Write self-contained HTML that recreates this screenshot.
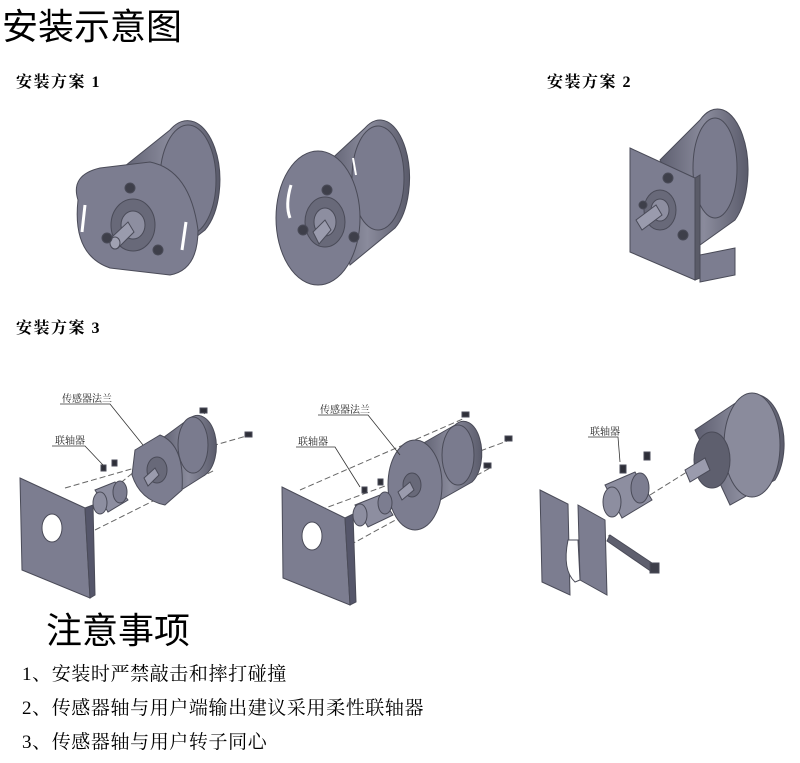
<!DOCTYPE html>
<html><head><meta charset="utf-8"><style>
html,body{margin:0;padding:0;background:#fff;}
body{width:800px;height:763px;overflow:hidden;position:relative;font-family:"Liberation Serif","Noto Serif CJK SC","Noto Sans CJK SC",serif;}
.t{position:absolute;white-space:nowrap;color:#000;}
.s{font-size:16px;font-weight:bold;letter-spacing:1.5px;}
.n{font-size:19px;letter-spacing:0.6px;}
</style></head><body>
<div class="t" style="left:2px;top:-2px;font-size:36px;font-family:'Liberation Sans','Noto Sans CJK SC',sans-serif;">安装示意图</div>
<div class="t s" style="left:16px;top:69px;">安装方案 1</div>
<div class="t s" style="left:547px;top:69px;">安装方案 2</div>
<div class="t s" style="left:16px;top:315px;">安装方案 3</div>
<div class="t" style="left:46px;top:602px;font-size:36px;font-family:'Liberation Sans','Noto Sans CJK SC',sans-serif;">注意事项</div>
<div class="t n" style="left:22px;top:659px;">1、安装时严禁敲击和摔打碰撞</div>
<div class="t n" style="left:22px;top:693px;">2、传感器轴与用户端输出建议采用柔性联轴器</div>
<div class="t n" style="left:22px;top:727px;">3、传感器轴与用户转子同心</div>

<svg width="800" height="763" style="position:absolute;left:0;top:0" xmlns="http://www.w3.org/2000/svg">
<defs>
<linearGradient id="cyl" x1="0" y1="0" x2="1" y2="0">
<stop offset="0" stop-color="#5e5f70"/><stop offset="0.5" stop-color="#8a8b9c"/><stop offset="1" stop-color="#5a5b6b"/></linearGradient>
</defs>
<g fill="#73748a" stroke="#4a4b58" stroke-width="1">
<path d="M120,170 L170,130 A30,55 0 0 1 205,230 L160,265 Z" fill="url(#cyl)"/>
<ellipse cx="188" cy="180" rx="28" ry="55" fill="#7a7b8e"/>
<path d="M78,200 Q70,175 100,168 L150,162 Q190,170 198,230 Q198,270 170,275 L110,268 Q72,255 78,200 Z" fill="#7c7d90"/>
<ellipse cx="133" cy="225" rx="22" ry="26" fill="#686979"/>
<ellipse cx="133" cy="225" rx="12" ry="14" fill="#8d8ea0"/>
<path d="M112,237 L128,222 L134,232 L118,248 Z" fill="#9a9bad"/>
<ellipse cx="115" cy="243" rx="5" ry="6" fill="#a0a1b2"/>
<circle cx="130" cy="188" r="5" fill="#3e3f4a"/><circle cx="107" cy="238" r="5" fill="#3e3f4a"/><circle cx="158" cy="250" r="5" fill="#3e3f4a"/>
<path d="M85,205 L82,232" stroke="#fff" stroke-width="3"/><path d="M186,222 L182,250" stroke="#fff" stroke-width="3"/>
<path d="M325,165 L365,128 A28,55 0 0 1 395,228 L350,265 Z" fill="url(#cyl)"/>
<ellipse cx="378" cy="178" rx="26" ry="52" fill="#7a7b8e"/>
<ellipse cx="318" cy="218" rx="42" ry="67" fill="#7c7d90"/>
<ellipse cx="325" cy="222" rx="20" ry="25" fill="#686979"/>
<ellipse cx="325" cy="222" rx="11" ry="14" fill="#8d8ea0"/>
<path d="M313,232 L325,220 L331,230 L319,244 Z" fill="#9a9bad"/>
<circle cx="327" cy="190" r="5" fill="#3e3f4a"/><circle cx="303" cy="230" r="5" fill="#3e3f4a"/><circle cx="354" cy="237" r="5" fill="#3e3f4a"/>
<path d="M291,185 Q285,205 290,218" stroke="#fff" stroke-width="3" fill="none"/>
<path d="M345,275 Q360,278 370,268" stroke="#fff" stroke-width="3" fill="none"/>
<path d="M353,158 L356,175" stroke="#fff" stroke-width="2"/>
<path d="M660,160 L700,120 A25,50 0 0 1 735,220 L700,245 Z" fill="url(#cyl)"/>
<ellipse cx="715" cy="168" rx="22" ry="50" fill="#7a7b8e"/>
<path d="M700,255 L735,248 L735,275 L700,282 Z" fill="#7c7d90"/>
<path d="M630,148 L695,178 L695,280 L630,252 Z" fill="#7c7d90"/>
<path d="M695,178 L700,175 L700,278 L695,280 Z" fill="#5a5b68"/>
<ellipse cx="660" cy="210" rx="16" ry="20" fill="#686979"/>
<ellipse cx="660" cy="210" rx="9" ry="11" fill="#8d8ea0"/>
<path d="M636,220 L656,205 L662,215 L642,230 Z" fill="#9a9bad"/>
<circle cx="668" cy="178" r="5" fill="#3e3f4a"/><circle cx="643" cy="205" r="4" fill="#3e3f4a"/><circle cx="683" cy="235" r="5" fill="#3e3f4a"/>
</g>

<g stroke="#666" stroke-width="1" stroke-dasharray="6,3" fill="none">
<line x1="65" y1="488" x2="250" y2="435"/><line x1="95" y1="530" x2="215" y2="470"/><line x1="100" y1="500" x2="205" y2="413"/>
<line x1="320" y1="510" x2="510" y2="440"/><line x1="350" y1="545" x2="490" y2="468"/><line x1="300" y1="490" x2="465" y2="418"/>
<line x1="570" y1="560" x2="610" y2="535"/><line x1="650" y1="495" x2="690" y2="470"/>
</g>
<g fill="#73748a" stroke="#4a4b58" stroke-width="1">
<path d="M20,478 L85,508 L90,598 L22,570 Z" fill="#7c7d90"/>
<path d="M85,508 L93,505 L95,595 L90,598 Z" fill="#55566a"/>
<ellipse cx="52" cy="528" rx="10" ry="14" fill="#fff"/>
<path d="M160,440 L190,418 A17,28 0 0 1 205,475 L178,492 Z" fill="url(#cyl)"/>
<ellipse cx="193" cy="445" rx="15" ry="28" fill="#7a7b8e"/>
<path d="M135,450 L160,435 Q185,445 182,490 L165,505 Q140,500 132,475 Z" fill="#7c7d90"/>
<ellipse cx="157" cy="470" rx="10" ry="13" fill="#686979"/>
<path d="M144,478 L155,468 L159,475 L148,486 Z" fill="#9a9bad"/>
<path d="M95,490 L115,482 L128,500 L108,512 Z" fill="#8d8ea0"/>
<ellipse cx="100" cy="503" rx="7" ry="11" fill="#8d8ea0"/><ellipse cx="120" cy="492" rx="7" ry="11" fill="#7c7d90"/>
<rect x="101" y="465" width="5" height="6" fill="#2e2f38"/><rect x="112" y="460" width="5" height="6" fill="#2e2f38"/>
<rect x="200" y="408" width="7" height="5" fill="#2e2f38"/><rect x="245" y="432" width="7" height="5" fill="#2e2f38"/>
<path d="M282,487 L345,518 L350,605 L283,578 Z" fill="#7c7d90"/>
<path d="M345,518 L353,514 L356,602 L350,605 Z" fill="#55566a"/>
<ellipse cx="312" cy="536" rx="10" ry="14" fill="#fff"/>
<path d="M420,445 L455,425 A17,30 0 0 1 472,482 L440,500 Z" fill="url(#cyl)"/>
<ellipse cx="458" cy="455" rx="16" ry="30" fill="#7a7b8e"/>
<ellipse cx="415" cy="485" rx="27" ry="45" fill="#7c7d90"/>
<ellipse cx="412" cy="485" rx="9" ry="12" fill="#686979"/>
<path d="M398,492 L410,482 L414,490 L402,500 Z" fill="#9a9bad"/>
<path d="M355,505 L380,495 L393,515 L368,527 Z" fill="#8d8ea0"/>
<ellipse cx="360" cy="515" rx="7" ry="11" fill="#8d8ea0"/><ellipse cx="385" cy="503" rx="7" ry="11" fill="#7c7d90"/>
<rect x="362" y="487" width="5" height="6" fill="#2e2f38"/><rect x="378" y="479" width="5" height="6" fill="#2e2f38"/>
<rect x="462" y="412" width="7" height="5" fill="#2e2f38"/><rect x="505" y="436" width="7" height="5" fill="#2e2f38"/><rect x="484" y="463" width="7" height="5" fill="#2e2f38"/>
<path d="M695,430 L740,400 A30,50 0 0 1 775,480 L730,505 Z" fill="url(#cyl)"/>
<ellipse cx="752" cy="445" rx="28" ry="52" fill="#8a8b9c"/>
<ellipse cx="712" cy="460" rx="18" ry="28" fill="#5e5f6e"/>
<path d="M685,470 L705,458 L710,470 L690,482 Z" fill="#9a9bad"/>
<path d="M540,490 L568,504 L570,595 L542,582 Z" fill="#7c7d90"/>
<path d="M578,505 L605,520 L607,595 L580,580 Z" fill="#7c7d90"/>
<path d="M568,540 Q562,570 575,582 L580,580 L578,540 Z" fill="#fff"/>
<path d="M605,485 L635,472 L652,500 L622,518 Z" fill="#8d8ea0"/>
<ellipse cx="612" cy="502" rx="9" ry="15" fill="#8d8ea0"/><ellipse cx="640" cy="488" rx="9" ry="15" fill="#7c7d90"/>
<rect x="620" y="465" width="6" height="8" fill="#2e2f38"/><rect x="644" y="452" width="6" height="8" fill="#2e2f38"/>
<path d="M610,535 L655,565 L652,572 L607,541 Z" fill="#5e5f6e"/>
<rect x="650" y="563" width="9" height="10" fill="#3e3f4a"/>
</g>
<g stroke="#333" stroke-width="0.8" fill="none">
<polyline points="60,404 110,404 143,445"/><polyline points="52,446 85,446 103,465"/>
<polyline points="318,415 368,415 400,455"/><polyline points="296,447 335,447 360,487"/>
<polyline points="588,437 618,437 620,462"/>
</g>
<g font-family="'Liberation Serif','Noto Serif CJK SC',serif" font-size="10" fill="#222">
<text x="62" y="402">传感器法兰</text><text x="55" y="444">联轴器</text>
<text x="320" y="413">传感器法兰</text><text x="298" y="445">联轴器</text>
<text x="590" y="435">联轴器</text>
</g>
</svg>
</body></html>
